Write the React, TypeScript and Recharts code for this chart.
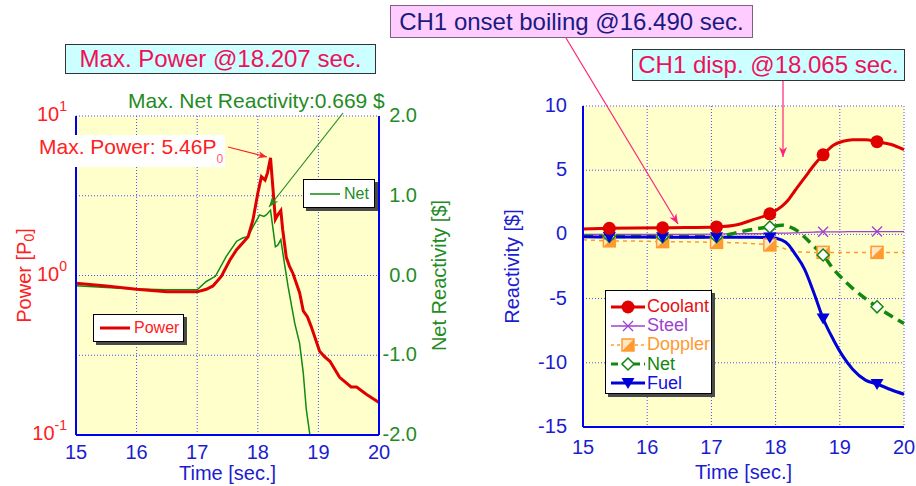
import React from "react";
import { LineChart, Line, XAxis, YAxis, CartesianGrid } from "recharts";

// ---- left panel: power (log) and net reactivity ----
const powerTime = [15, 15.5, 16, 16.5, 17, 17.15, 17.26, 17.4, 17.54, 17.65, 17.75, 17.84, 17.92, 18.0, 18.06, 18.12, 18.16, 18.21, 18.25, 18.29, 18.33, 18.38, 18.41, 18.47, 18.52, 18.58, 18.69, 18.75, 18.82, 18.88, 19.02, 19.1, 19.19, 19.35, 19.54, 19.63, 19.79, 20];
const powerVal = [0.895, 0.86, 0.82, 0.79, 0.79, 0.82, 0.86, 0.99, 1.25, 1.45, 1.6, 1.75, 2.23, 3.28, 4.17, 3.97, 4.4, 5.46, 3.5, 2.25, 2.4, 2.55, 1.95, 1.3, 1.15, 1.03, 0.78, 0.6, 0.55, 0.48, 0.335, 0.31, 0.29, 0.23, 0.2, 0.2, 0.18, 0.16];

const netTime = [15, 15.5, 16, 16.5, 17, 17.15, 17.3, 17.48, 17.65, 17.75, 17.84, 17.92, 18.03, 18.1, 18.14, 18.21, 18.25, 18.29, 18.33, 18.38, 18.44, 18.5, 18.55, 18.61, 18.69, 18.75, 18.8, 18.86];
const netVal = [-0.13, -0.15, -0.17, -0.18, -0.18, -0.075, -0.01, 0.24, 0.43, 0.47, 0.49, 0.61, 0.76, 0.74, 0.76, 0.82, 0.59, 0.36, 0.38, 0.45, 0.15, -0.14, -0.35, -0.6, -0.85, -1.22, -1.68, -2.0];

const timeTicks = [15, 16, 17, 18, 19, 20];
const powerTicks = [0.1, 1, 10];
const netTicks = [-2, -1, 0, 1, 2];

// ---- right panel: reactivity components ----
const rightTime = [15, 15.41, 15.8, 16.24, 16.6, 17.08, 17.4, 17.65, 17.91, 18.1, 18.2, 18.3, 18.45, 18.6, 18.74, 18.9, 19.05, 19.2, 19.4, 19.58, 19.8, 20];
const coolant = [0.42, 0.47, 0.5, 0.52, 0.53, 0.58, 0.75, 1.15, 1.6, 2.2, 2.7, 3.4, 4.4, 5.4, 6.2, 6.95, 7.25, 7.38, 7.38, 7.22, 7.0, 6.6];
const steel = [0, 0, 0, 0, 0, 0.02, 0.05, 0.05, 0.08, 0.1, 0.1, 0.12, 0.15, 0.18, 0.2, 0.2, 0.2, 0.22, 0.22, 0.22, 0.22, 0.22];
const doppler = [-0.42, -0.5, -0.52, -0.56, -0.58, -0.62, -0.66, -0.72, -0.82, -1.05, -1.22, -1.32, -1.38, -1.4, -1.4, -1.4, -1.4, -1.4, -1.4, -1.4, -1.4, -1.4];
const netR = [-0.15, -0.15, -0.16, -0.18, -0.18, -0.18, 0.15, 0.4, 0.58, 0.72, 0.62, 0.4, -0.2, -0.95, -1.6, -2.7, -3.5, -4.2, -5.0, -5.64, -6.35, -6.94];
const fuel = [-0.18, -0.2, -0.2, -0.22, -0.22, -0.22, -0.22, -0.22, -0.25, -0.45, -0.8, -1.5, -2.7, -4.6, -6.55, -8.2, -9.5, -10.5, -11.35, -11.65, -12.1, -12.45];
const markerIdx = [1, 3, 5, 8, 14, 19];
const reactTicks = [-15, -10, -5, 0, 5, 10];

const powerData = powerTime.map((t, i) => ({ t, power: powerVal[i] }));
const netData = netTime.map((t, i) => ({ t, net: netVal[i] }));
const rightData = rightTime.map((t, i) => ({
  t,
  coolant: coolant[i],
  steel: steel[i],
  doppler: doppler[i],
  net: netR[i],
  fuel: fuel[i],
}));

const FONT = '"Liberation Sans", Arial, Helvetica, sans-serif';
const BLUE = "#1c1cd0";
const AXIS = "#0000f0";
const RED = "#ff2020";
const GREEN = "#1f8c1f";
const GRID = "#4a4aff";
const PLOT_BG = "#ffffcc";

function TimeTick(props: any) {
  const { x, y, payload, dy } = props;
  return (
    <text x={x} y={y + dy} textAnchor="middle" fill={BLUE} fontSize={20} fontFamily={FONT}>
      {payload.value}
    </text>
  );
}

function PowerTick(props: any) {
  const { x, y, payload } = props;
  const exp = Math.round(Math.log10(payload.value));
  return (
    <text x={x - 9} y={y + 5} textAnchor="end" fill={RED} fontSize={20} fontFamily={FONT}>
      <tspan>10</tspan>
      <tspan dy={-10} fontSize={14}>{exp}</tspan>
    </text>
  );
}

function NetTick(props: any) {
  const { x, y, payload } = props;
  return (
    <text x={x + 38} y={y + 6} textAnchor="end" fill={GREEN} fontSize={20} fontFamily={FONT}>
      {payload.value.toFixed(1)}
    </text>
  );
}

function ReactTick(props: any) {
  const { x, y, payload } = props;
  return (
    <text x={x - 16} y={y + 6} textAnchor="end" fill={BLUE} fontSize={20} fontFamily={FONT}>
      {payload.value}
    </text>
  );
}

function TimeTitle(props: any) {
  const { viewBox, dy } = props;
  return (
    <text x={viewBox.x + viewBox.width / 2} y={viewBox.y + dy} textAnchor="middle" fill={BLUE} fontSize={20} fontFamily={FONT}>
      Time [sec.]
    </text>
  );
}

function VTitle(props: any) {
  const { viewBox, dx, color, children } = props;
  const cx = viewBox.x + dx;
  const cy = viewBox.y + viewBox.height / 2;
  return (
    <text
      x={cx}
      y={cy}
      transform={`rotate(-90 ${cx} ${cy})`}
      textAnchor="middle"
      dominantBaseline="central"
      fill={color}
      fontSize={20}
      fontFamily={FONT}
    >
      {children}
    </text>
  );
}

// marker renderer: only every few points carries a symbol
function makeDot(kind: string) {
  return (p: any) => {
    const { cx, cy, index } = p;
    const key = `${kind}-${index}`;
    if (!markerIdx.includes(index) || cx == null || cy == null) return <g key={key} />;
    return <g key={key}>{symbol(kind, cx, cy)}</g>;
  };
}

function symbol(kind: string, cx: number, cy: number) {
  switch (kind) {
    case "circle":
      return <circle cx={cx} cy={cy} r={6.5} fill="#e00000" />;
    case "cross":
      return (
        <g stroke="#a040d0" strokeWidth={1.3}>
          <line x1={cx - 5} y1={cy - 5} x2={cx + 5} y2={cy + 5} />
          <line x1={cx - 5} y1={cy + 5} x2={cx + 5} y2={cy - 5} />
        </g>
      );
    case "halfsquare":
      return (
        <g>
          <rect x={cx - 6} y={cy - 6} width={12} height={12} fill="#ffe6c0" stroke="#ff9a30" strokeWidth={1.5} />
          <polygon points={`${cx + 6},${cy - 6} ${cx + 6},${cy + 6} ${cx - 6},${cy + 6}`} fill="#ff9a30" />
        </g>
      );
    case "diamond":
      return (
        <polygon
          points={`${cx},${cy - 6} ${cx + 6},${cy} ${cx},${cy + 6} ${cx - 6},${cy}`}
          fill="#ffffff"
          stroke="#118811"
          strokeWidth={1.5}
        />
      );
    default:
      return <polygon points={`${cx - 6.5},${cy - 5} ${cx + 6.5},${cy - 5} ${cx},${cy + 6}`} fill="#0000d8" />;
  }
}

const legendRows = [
  { name: "Coolant", color: "#e00000", text: "#e81010", width: 3, dash: undefined, kind: "circle" },
  { name: "Steel", color: "#a040d0", text: "#a040d0", width: 1.3, dash: undefined, kind: "cross" },
  { name: "Doppler", color: "#ff9a30", text: "#ff9a30", width: 1.5, dash: "3 3", kind: "halfsquare" },
  { name: "Net", color: "#118811", text: "#118811", width: 3, dash: "7 4", kind: "diamond" },
  { name: "Fuel", color: "#0000d8", text: "#1010e0", width: 3, dash: undefined, kind: "triangle" },
];

const boxShadow = "3px 3px 0 #4a4a4a";

export default function App() {
  return (
    <div style={{ position: "absolute", left: 0, top: 0, width: 916, height: 486, background: "#ffffff", fontFamily: FONT, overflow: "hidden" }}>
      {/* left chart */}
      <div style={{ position: "absolute", left: 0, top: 0 }}>
        <LineChart width={460} height={486} margin={{ top: 116, right: 21, bottom: 1, left: 16 }}>
          <CartesianGrid yAxisId="n" stroke={GRID} strokeDasharray="1 2" fill={PLOT_BG} fillOpacity={1} />
          <XAxis
            dataKey="t"
            type="number"
            domain={[15, 20]}
            ticks={timeTicks}
            height={50}
            tickSize={0}
            tickMargin={0}
            axisLine={{ stroke: AXIS, strokeWidth: 2 }}
            tick={(p: any) => <TimeTick {...p} dy={24} />}
            label={<TimeTitle dy={45} />}
            allowDataOverflow
          />
          <XAxis xAxisId="top" orientation="top" type="number" domain={[15, 20]} height={0} tick={false} tickLine={false} axisLine={{ stroke: AXIS, strokeWidth: 2 }} />
          <YAxis
            yAxisId="p"
            scale="log"
            domain={[0.1, 10]}
            ticks={powerTicks}
            width={60}
            tickSize={0}
            tickMargin={0}
            allowDataOverflow
            axisLine={{ stroke: AXIS, strokeWidth: 2 }}
            tick={(p: any) => <PowerTick {...p} />}
            label={
              <VTitle dx={8} color={RED}>
                <tspan>Power [P</tspan>
                <tspan dy={5} fontSize={14}>0</tspan>
                <tspan dy={-5}>]</tspan>
              </VTitle>
            }
          />
          <YAxis
            yAxisId="n"
            orientation="right"
            domain={[-2, 2]}
            ticks={netTicks}
            width={60}
            tickSize={0}
            tickMargin={0}
            allowDataOverflow
            axisLine={{ stroke: AXIS, strokeWidth: 2 }}
            tick={(p: any) => <NetTick {...p} />}
            label={<VTitle dx={60} color={GREEN}>Net Reactivity [$]</VTitle>}
          />
          <Line yAxisId="n" data={netData} dataKey="net" type="linear" stroke="#108a10" strokeWidth={1.5} dot={false} isAnimationActive={false} />
          <Line yAxisId="p" data={powerData} dataKey="power" type="linear" stroke="#e00000" strokeWidth={3} dot={false} isAnimationActive={false} />
        </LineChart>
      </div>

      {/* right chart */}
      <div style={{ position: "absolute", left: 460, top: 0 }}>
        <LineChart width={456} height={486} data={rightData} margin={{ top: 106, right: 12, bottom: 9, left: 53 }}>
          <CartesianGrid stroke={GRID} strokeDasharray="1 2" fill={PLOT_BG} fillOpacity={1} />
          <XAxis
            dataKey="t"
            type="number"
            domain={[15, 20]}
            ticks={timeTicks}
            height={50}
            tickSize={0}
            tickMargin={0}
            axisLine={{ stroke: AXIS, strokeWidth: 2 }}
            tick={(p: any) => <TimeTick {...p} dy={27} />}
            label={<TimeTitle dy={52} />}
          />
          <XAxis xAxisId="top" orientation="top" type="number" domain={[15, 20]} height={0} tick={false} tickLine={false} axisLine={{ stroke: AXIS, strokeWidth: 2 }} />
          <YAxis
            domain={[-15, 10]}
            ticks={reactTicks}
            width={70}
            tickSize={0}
            tickMargin={0}
            axisLine={{ stroke: AXIS, strokeWidth: 2 }}
            tick={(p: any) => <ReactTick {...p} />}
            label={<VTitle dx={-1} color={BLUE}>Reactivity [$]</VTitle>}
          />
          <YAxis yAxisId="r2" orientation="right" domain={[-15, 10]} width={0} tick={false} tickLine={false} axisLine={{ stroke: AXIS, strokeWidth: 2 }} />
          <Line dataKey="doppler" type="monotone" stroke="#ff9a30" strokeWidth={1.5} strokeDasharray="4 4" dot={makeDot("halfsquare")} isAnimationActive={false} />
          <Line dataKey="steel" type="monotone" stroke="#a040d0" strokeWidth={1.3} dot={makeDot("cross")} isAnimationActive={false} />
          <Line dataKey="net" type="monotone" stroke="#118811" strokeWidth={3.5} strokeDasharray="10 6" dot={makeDot("diamond")} isAnimationActive={false} />
          <Line dataKey="fuel" type="monotone" stroke="#0000d8" strokeWidth={3} dot={makeDot("triangle")} isAnimationActive={false} />
          <Line dataKey="coolant" type="monotone" stroke="#e00000" strokeWidth={3} dot={makeDot("circle")} isAnimationActive={false} />
        </LineChart>
      </div>

      {/* left legends */}
      <div style={{ position: "absolute", left: 93, top: 314, width: 89, height: 26, background: "#fff", border: "1.5px solid #000", boxShadow, display: "flex", alignItems: "center" }}>
        <svg width={36} height={10} style={{ marginLeft: 4 }}>
          <line x1={2} y1={5} x2={32} y2={5} stroke="#e00000" strokeWidth={3} />
        </svg>
        <span style={{ color: RED, fontSize: 16 }}>Power</span>
      </div>
      <div style={{ position: "absolute", left: 303, top: 179, width: 70, height: 27, background: "#fff", border: "1.5px solid #000", boxShadow, display: "flex", alignItems: "center" }}>
        <svg width={36} height={10} style={{ marginLeft: 4 }}>
          <line x1={2} y1={5} x2={32} y2={5} stroke="#108a10" strokeWidth={1.5} />
        </svg>
        <span style={{ color: GREEN, fontSize: 16 }}>Net</span>
      </div>

      {/* right legend */}
      <div style={{ position: "absolute", left: 605, top: 290, width: 107, height: 104, background: "#fff", border: "1.5px solid #000", boxShadow, paddingTop: 6, boxSizing: "border-box" }}>
        {legendRows.map((r) => (
          <div key={r.name} style={{ display: "flex", alignItems: "center", height: 19.2 }}>
            <svg width={38} height={16} style={{ marginLeft: 3 }}>
              <line x1={2} y1={8} x2={36} y2={8} stroke={r.color} strokeWidth={r.width} strokeDasharray={r.dash} />
              {symbol(r.kind, 19, 8)}
            </svg>
            <span style={{ color: r.text, fontSize: 18, lineHeight: "19px" }}>{r.name}</span>
          </div>
        ))}
      </div>

      {/* annotation boxes */}
      <div style={{ position: "absolute", left: 65, top: 44, width: 309, height: 28, background: "#ccffff", border: "1.5px solid #333", color: "#f0105a", fontSize: 24, lineHeight: "28px", textAlign: "center" }}>
        Max. Power @18.207 sec.
      </div>
      <div style={{ position: "absolute", left: 390, top: 5, width: 361, height: 31, background: "#ffccff", border: "1.5px solid #806080", color: "#1a1a80", fontSize: 24, lineHeight: "31px", textAlign: "center" }}>
        CH1 onset boiling @16.490 sec.
      </div>
      <div style={{ position: "absolute", left: 632, top: 49, width: 271, height: 30, background: "#ccffff", border: "1.5px solid #333", color: "#f0105a", fontSize: 24, lineHeight: "30px", textAlign: "center" }}>
        CH1 disp. @18.065 sec.
      </div>
      <div style={{ position: "absolute", left: 38, top: 135, width: 187, height: 32, background: "#fff" }} />

      <svg width={916} height={486} style={{ position: "absolute", left: 0, top: 0, pointerEvents: "none" }}>
        <defs>
          <marker id="arRed" viewBox="0 0 10 10" refX={10} refY={5} markerWidth={9} markerHeight={9} orient="auto" markerUnits="userSpaceOnUse">
            <path d="M0,1 L10,5 L0,9 L3,5 z" fill="#ff2020" />
          </marker>
          <marker id="arGreen" viewBox="0 0 10 10" refX={10} refY={5} markerWidth={10} markerHeight={10} orient="auto" markerUnits="userSpaceOnUse">
            <path d="M0,1 L10,5 L0,9 L3,5 z" fill="#1f8c1f" />
          </marker>
          <marker id="arPink" viewBox="0 0 10 10" refX={10} refY={5} markerWidth={10} markerHeight={10} orient="auto" markerUnits="userSpaceOnUse">
            <path d="M0,1 L10,5 L0,9 L3,5 z" fill="#ff2277" />
          </marker>
        </defs>
        <text x={39} y={154} fill={RED} fontSize={21} fontFamily={FONT}>
          Max. Power: 5.46P
          <tspan dy={9} fontSize={12} fill="#ff6070">0</tspan>
        </text>
        <text x={128} y={108} fill={GREEN} fontSize={21} fontFamily={FONT}>
          Max. Net Reactivity:0.669 $
        </text>
        <line x1={228} y1={147} x2={267} y2={157} stroke="#ff2020" strokeWidth={1.2} markerEnd="url(#arRed)" />
        <line x1={343} y1={113} x2={269} y2={207} stroke="#1f8c1f" strokeWidth={1.2} markerEnd="url(#arGreen)" />
        <line x1={566} y1={38} x2={678} y2={224} stroke="#ff2277" strokeWidth={1.2} markerEnd="url(#arPink)" />
        <line x1={783} y1={81} x2={783} y2={157} stroke="#ff2277" strokeWidth={1.2} markerEnd="url(#arPink)" />
      </svg>
    </div>
  );
}
